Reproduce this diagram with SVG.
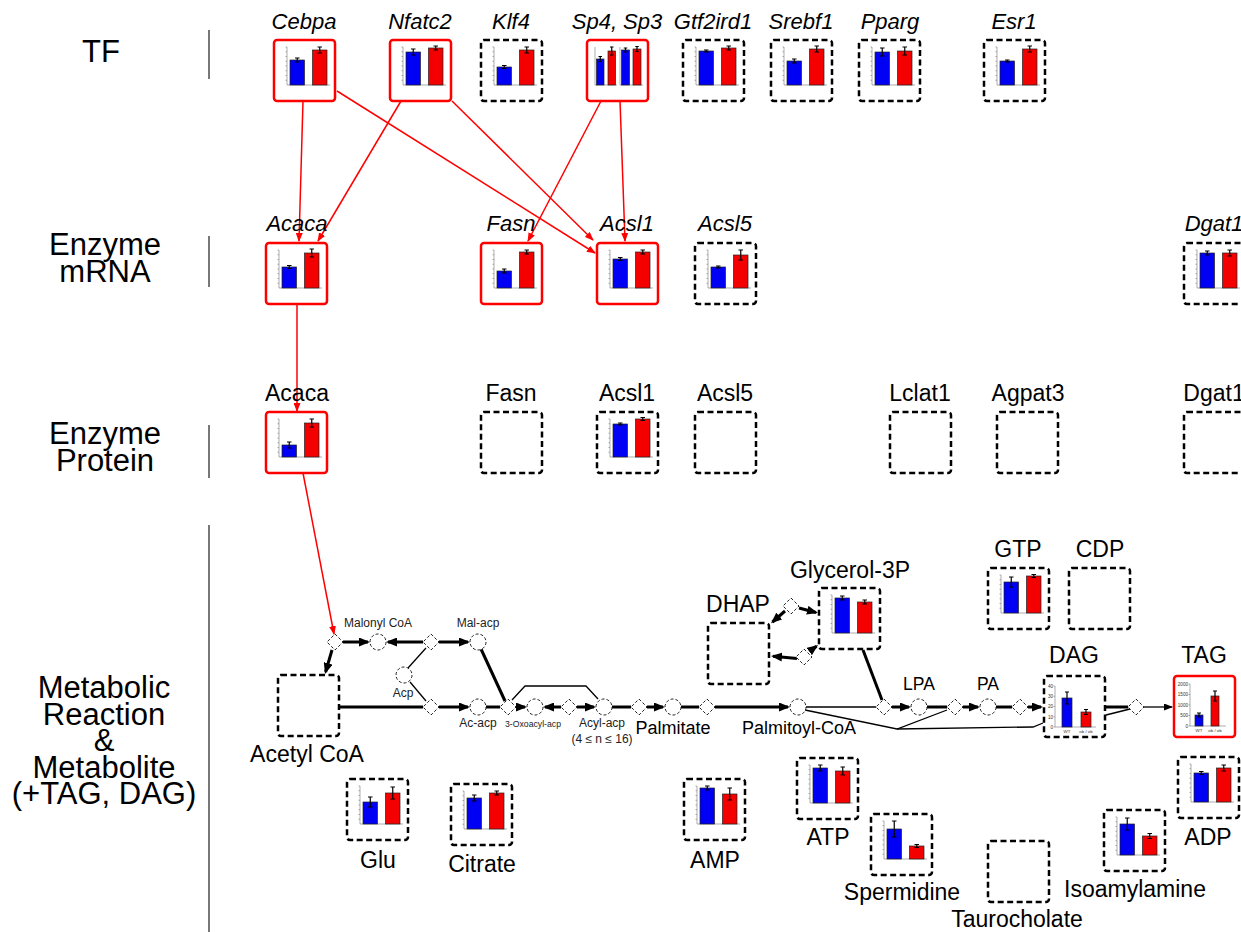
<svg xmlns="http://www.w3.org/2000/svg" xmlns:xlink="http://www.w3.org/1999/xlink" width="1241" height="932" viewBox="0 0 1241 932">
<style>
text{font-family:"Liberation Sans",Arial,sans-serif;fill:#000}
.cat{font-size:31px;text-anchor:middle}
.gi{font-size:22px;font-style:italic;text-anchor:middle}
.gl{font-size:23px;text-anchor:middle}
.md{font-size:18px;text-anchor:middle}
.lp{font-size:17.5px;text-anchor:middle}
.sm{font-size:12px;text-anchor:middle;fill:#222}
.xs{font-size:8.7px;text-anchor:middle;fill:#222}
.tk{font-size:4.6px;fill:#333}
.tc{font-size:4.4px;fill:#333;text-anchor:middle}
.bx{fill:#fff;stroke:#000;stroke-width:2.5;stroke-dasharray:6 3.5}
.bxr{fill:#fff;stroke:#f00;stroke-width:2.5}
.dia,.cir{fill:#fff;stroke:#222;stroke-width:1;stroke-dasharray:3 2}
.th{fill:none;stroke:#000;stroke-width:3}
.tha{fill:none;stroke:#000;stroke-width:3;marker-end:url(#ak)}
.tn{fill:none;stroke:#000;stroke-width:1.3}
.tna{fill:none;stroke:#000;stroke-width:1.3;marker-end:url(#as)}
.rd{fill:none;stroke:#f00;stroke-width:1.5;marker-end:url(#ar)}
.bb{fill:#0000f5;stroke:#222;stroke-width:0.7}
.br{fill:#f50000;stroke:#222;stroke-width:0.7}
.eb{fill:none;stroke:#000;stroke-width:1.2}
.axl{fill:none;stroke:#777;stroke-width:0.6}
.sep{fill:none;stroke:#777;stroke-width:2}
</style>
<defs>
<marker id="ak" viewBox="0 0 11 9" markerWidth="11" markerHeight="9" refX="9" refY="4.5" orient="auto" markerUnits="userSpaceOnUse"><path d="M0,0L11,4.5L0,9z" fill="#000"/></marker>
<marker id="as" viewBox="0 0 9 7" markerWidth="9" markerHeight="7" refX="8" refY="3.5" orient="auto" markerUnits="userSpaceOnUse"><path d="M0,0L9,3.5L0,7z" fill="#000"/></marker>
<marker id="ar" viewBox="0 0 9 7" markerWidth="9" markerHeight="7" refX="8" refY="3.5" orient="auto" markerUnits="userSpaceOnUse"><path d="M0,0L9,3.5L0,7z" fill="#f00"/></marker>
<path id="dm" d="M0,-8L8,0L0,8L-8,0z"/>
<g id="ax"><path class="axl" d="M13,7V45H56"/><path class="axl" d="M11.5,7h1.5M11.5,11.75h1.5M11.5,16.5h1.5M11.5,21.25h1.5M11.5,26h1.5M11.5,30.75h1.5M11.5,35.5h1.5M11.5,40.25h1.5"/></g>
</defs>

<!-- category column -->
<g id="categories">
<text class="cat" x="101" y="62">TF</text>
<text class="cat" x="105" y="255">Enzyme</text>
<text class="cat" x="105" y="281.5">mRNA</text>
<text class="cat" x="105" y="444">Enzyme</text>
<text class="cat" x="105" y="470.5">Protein</text>
<text class="cat" x="104" y="698">Metabolic</text>
<text class="cat" x="104" y="724.5">Reaction</text>
<text class="cat" x="104" y="751">&amp;</text>
<text class="cat" x="104" y="777.5">Metabolite</text>
<text class="cat" x="104" y="804">(+TAG, DAG)</text>
<path class="sep" d="M209,30V79M209,236V287M209,425V478M209,525V932"/>
</g>

<!-- connectors -->
<g id="connectors">
<!-- regulation -->
<path class="rd" d="M303,101L299,241"/>
<path class="rd" d="M337,91L595,253"/>
<path class="rd" d="M401,101L318,241"/>
<path class="rd" d="M452,101L593,240"/>
<path class="rd" d="M601,101L528,241"/>
<path class="rd" d="M620,101L625,241"/>
<path class="rd" d="M297,304L297,411"/>
<path class="rd" d="M303,473L334,634"/>
<!-- malonyl / acp branch -->
<path class="tha" d="M343,642H368"/>
<path class="tha" d="M332,650L325.6,672"/>
<path class="tha" d="M423,642H388"/>
<path class="tha" d="M439,642H468"/>
<path class="tn" d="M408,668L426,648"/>
<path class="tn" d="M410,682L426,701"/>
<path class="th" d="M339,707H423"/>
<path class="tha" d="M439,707H468"/>
<path class="th" d="M486,707H500"/>
<path class="th" d="M481,649L505,701"/>
<!-- elongation -->
<path class="tha" d="M516,707H525"/>
<path class="tha" d="M561,707H545"/>
<path class="tha" d="M577,707H594"/>
<path class="tn" d="M512,700L525,686H586L598,699"/>
<path class="th" d="M612,707H631"/>
<path class="tha" d="M647,707H663"/>
<path class="th" d="M681,707H699"/>
<path class="tha" d="M715,707H788"/>
<!-- glycerolipid branch -->
<path class="tn" d="M806,707H876"/>
<path class="tn" d="M805,710L897,729L947,710"/>
<path class="tn" d="M897,729L1033,727L1043,723"/>
<path class="th" d="M863,650L882,700"/>
<path class="tha" d="M785,611L772.5,622"/>
<path class="tha" d="M799,608L816,612.5"/>
<path class="tha" d="M797,658.5L773,656.2"/>
<path class="tha" d="M810,651L816.5,646.2"/>
<path class="tha" d="M892,707H909"/>
<path class="th" d="M927,707H947"/>
<path class="tha" d="M963,707H978"/>
<path class="th" d="M996,707H1012"/>
<path class="tha" d="M1028,707H1041"/>
<path class="th" d="M1106,707H1128"/>
<path class="tn" d="M1106,715L1130,709"/>
<path class="tna" d="M1144,707H1172"/>
</g>

<!-- transcription factors -->
<g id="tf-cebpa"><text class="gi" x="304" y="29">Cebpa</text><rect class="bxr" x="274" y="40" width="61" height="61" rx="3"/>
<g transform="translate(274,40)"><use xlink:href="#ax"/><rect class="bb" x="16" y="20" width="14.5" height="25"/><rect class="br" x="38.5" y="10" width="14.5" height="35"/><path class="eb" d="M23.25,18V22M21,18h4.5M21,22h4.5M45.75,7V13M43.5,7h4.5M43.5,13h4.5"/></g></g>
<g id="tf-nfatc2"><text class="gi" x="420" y="29">Nfatc2</text><rect class="bxr" x="390" y="40" width="61" height="61" rx="3"/>
<g transform="translate(390,40)"><use xlink:href="#ax"/><rect class="bb" x="16" y="12" width="14.5" height="33"/><rect class="br" x="38.5" y="8" width="14.5" height="37"/><path class="eb" d="M23.25,9V15M21,9h4.5M21,15h4.5M45.75,6V10M43.5,6h4.5M43.5,10h4.5"/></g></g>
<g id="tf-klf4"><text class="gi" x="511" y="29">Klf4</text><rect class="bx" x="481" y="40" width="61" height="61" rx="3"/>
<g transform="translate(481,40)"><use xlink:href="#ax"/><rect class="bb" x="16" y="27" width="14.5" height="18"/><rect class="br" x="38.5" y="10" width="14.5" height="35"/><path class="eb" d="M23.25,25.5V28.5M21,25.5h4.5M21,28.5h4.5M45.75,7V13M43.5,7h4.5M43.5,13h4.5"/></g></g>
<g id="tf-sp4-sp3"><text class="gi" x="617" y="29">Sp4, Sp3</text><rect class="bxr" x="587" y="40" width="61" height="61" rx="3"/>
<g transform="translate(587,40)"><path class="axl" d="M8,7V45H30M33,7V45H56"/><rect class="bb" x="9.5" y="19" width="7.5" height="26"/><rect class="br" x="21" y="11" width="7.5" height="34"/><rect class="bb" x="34.5" y="10" width="8" height="35"/><rect class="br" x="46" y="9" width="8" height="36"/><path class="eb" d="M13.25,16.5V21.5M11.5,16.5h3.5M11.5,21.5h3.5M24.75,7V15M23,7h3.5M23,15h3.5M38.5,8V12M36.75,8h3.5M36.75,12h3.5M50,6.5V11.5M48.25,6.5h3.5M48.25,11.5h3.5"/></g></g>
<g id="tf-gtf2ird1"><text class="gi" x="713" y="29">Gtf2ird1</text><rect class="bx" x="683" y="40" width="61" height="61" rx="3"/>
<g transform="translate(683,40)"><use xlink:href="#ax"/><rect class="bb" x="16" y="11" width="14.5" height="34"/><rect class="br" x="38.5" y="8" width="14.5" height="37"/><path class="eb" d="M23.25,10V12M21,10h4.5M21,12h4.5M45.75,6V10M43.5,6h4.5M43.5,10h4.5"/></g></g>
<g id="tf-srebf1"><text class="gi" x="801" y="29">Srebf1</text><rect class="bx" x="771" y="40" width="61" height="61" rx="3"/>
<g transform="translate(771,40)"><use xlink:href="#ax"/><rect class="bb" x="16" y="21" width="14.5" height="24"/><rect class="br" x="38.5" y="9" width="14.5" height="36"/><path class="eb" d="M23.25,19V23M21,19h4.5M21,23h4.5M45.75,6V12M43.5,6h4.5M43.5,12h4.5"/></g></g>
<g id="tf-pparg"><text class="gi" x="890" y="29">Pparg</text><rect class="bx" x="859" y="40" width="61" height="61" rx="3"/>
<g transform="translate(859,40)"><use xlink:href="#ax"/><rect class="bb" x="16" y="12" width="14.5" height="33"/><rect class="br" x="38.5" y="11" width="14.5" height="34"/><path class="eb" d="M23.25,8V16M21,8h4.5M21,16h4.5M45.75,7V15M43.5,7h4.5M43.5,15h4.5"/></g></g>
<g id="tf-esr1"><text class="gi" x="1014" y="29">Esr1</text><rect class="bx" x="984" y="40" width="61" height="61" rx="3"/>
<g transform="translate(984,40)"><use xlink:href="#ax"/><rect class="bb" x="16" y="21" width="14.5" height="24"/><rect class="br" x="38.5" y="9" width="14.5" height="36"/><path class="eb" d="M23.25,20V22M21,20h4.5M21,22h4.5M45.75,6V12M43.5,6h4.5M43.5,12h4.5"/></g></g>

<!-- enzyme mRNA -->
<g id="mrna-acaca"><text class="gi" x="297" y="231">Acaca</text><rect class="bxr" x="266" y="243" width="61" height="61" rx="3"/>
<g transform="translate(266,243)"><use xlink:href="#ax"/><rect class="bb" x="16" y="24" width="14.5" height="21"/><rect class="br" x="38.5" y="10" width="14.5" height="35"/><path class="eb" d="M23.25,22.5V25.5M21,22.5h4.5M21,25.5h4.5M45.75,6V14M43.5,6h4.5M43.5,14h4.5"/></g></g>
<g id="mrna-fasn"><text class="gi" x="511" y="231">Fasn</text><rect class="bxr" x="481" y="243" width="61" height="61" rx="3"/>
<g transform="translate(481,243)"><use xlink:href="#ax"/><rect class="bb" x="16" y="28" width="14.5" height="17"/><rect class="br" x="38.5" y="9" width="14.5" height="36"/><path class="eb" d="M23.25,26V30M21,26h4.5M21,30h4.5M45.75,7V11M43.5,7h4.5M43.5,11h4.5"/></g></g>
<g id="mrna-acsl1"><text class="gi" x="627" y="231">Acsl1</text><rect class="bxr" x="597" y="243" width="61" height="61" rx="3"/>
<g transform="translate(597,243)"><use xlink:href="#ax"/><rect class="bb" x="16" y="16" width="14.5" height="29"/><rect class="br" x="38.5" y="9" width="14.5" height="36"/><path class="eb" d="M23.25,14.5V17.5M21,14.5h4.5M21,17.5h4.5M45.75,7V11M43.5,7h4.5M43.5,11h4.5"/></g></g>
<g id="mrna-acsl5"><text class="gi" x="725" y="231">Acsl5</text><rect class="bx" x="695" y="243" width="61" height="61" rx="3"/>
<g transform="translate(695,243)"><use xlink:href="#ax"/><rect class="bb" x="16" y="24" width="14.5" height="21"/><rect class="br" x="38.5" y="12" width="14.5" height="33"/><path class="eb" d="M23.25,23V25M21,23h4.5M21,25h4.5M45.75,7V17M43.5,7h4.5M43.5,17h4.5"/></g></g>
<g id="mrna-dgat1"><text class="gi" x="1214" y="231">Dgat1</text><rect class="bx" x="1184" y="243" width="61" height="61" rx="3"/>
<g transform="translate(1184,243)"><use xlink:href="#ax"/><rect class="bb" x="16" y="10" width="14.5" height="35"/><rect class="br" x="38.5" y="10" width="14.5" height="35"/><path class="eb" d="M23.25,8V12M21,8h4.5M21,12h4.5M45.75,7V13M43.5,7h4.5M43.5,13h4.5"/></g></g>

<!-- enzyme protein -->
<g id="prot-acaca"><text class="gl" x="297" y="401">Acaca</text><rect class="bxr" x="266" y="412" width="61" height="61" rx="3"/>
<g transform="translate(266,412)"><use xlink:href="#ax"/><rect class="bb" x="16" y="33" width="14.5" height="12"/><rect class="br" x="38.5" y="11" width="14.5" height="34"/><path class="eb" d="M23.25,30V36M21,30h4.5M21,36h4.5M45.75,7V15M43.5,7h4.5M43.5,15h4.5"/></g></g>
<g id="prot-fasn"><text class="gl" x="511" y="401">Fasn</text><rect class="bx" x="481" y="412" width="61" height="61" rx="3"/></g>
<g id="prot-acsl1"><text class="gl" x="627" y="401">Acsl1</text><rect class="bx" x="597" y="412" width="61" height="61" rx="3"/>
<g transform="translate(597,412)"><use xlink:href="#ax"/><rect class="bb" x="16" y="12" width="14.5" height="33"/><rect class="br" x="38.5" y="7" width="14.5" height="38"/><path class="eb" d="M23.25,11V13M21,11h4.5M21,13h4.5M45.75,5.5V8.5M43.5,5.5h4.5M43.5,8.5h4.5"/></g></g>
<g id="prot-acsl5"><text class="gl" x="725" y="401">Acsl5</text><rect class="bx" x="695" y="412" width="61" height="61" rx="3"/></g>
<g id="prot-lclat1"><text class="gl" x="920" y="401">Lclat1</text><rect class="bx" x="890" y="412" width="61" height="61" rx="3"/></g>
<g id="prot-agpat3"><text class="gl" x="1028" y="401">Agpat3</text><rect class="bx" x="997" y="412" width="61" height="61" rx="3"/></g>
<g id="prot-dgat1"><text class="gl" x="1214" y="401">Dgat1</text><rect class="bx" x="1184" y="412" width="61" height="61" rx="3"/></g>

<!-- reaction points and intermediates -->
<g id="r1"><use xlink:href="#dm" class="dia" x="335" y="642"/></g>
<g id="malonyl-coa"><circle class="cir" cx="378" cy="642" r="8"/><text class="sm" x="378" y="627">Malonyl CoA</text></g>
<g id="r2"><use xlink:href="#dm" class="dia" x="431" y="642"/></g>
<g id="mal-acp"><circle class="cir" cx="478" cy="642" r="8"/><text class="sm" x="478" y="627">Mal-acp</text></g>
<g id="acp"><circle class="cir" cx="404" cy="675" r="8"/><text class="sm" x="403" y="697">Acp</text></g>
<g id="r3"><use xlink:href="#dm" class="dia" x="431" y="707"/></g>
<g id="ac-acp"><circle class="cir" cx="478" cy="707" r="8"/><text class="sm" x="478" y="727">Ac-acp</text></g>
<g id="r4"><use xlink:href="#dm" class="dia" x="508" y="707"/></g>
<g id="oxoacyl-acp"><circle class="cir" cx="535" cy="707" r="8"/><text class="xs" x="533" y="727">3-Oxoacyl-acp</text></g>
<g id="r5"><use xlink:href="#dm" class="dia" x="569" y="707"/></g>
<g id="acyl-acp"><circle class="cir" cx="604" cy="707" r="8"/><text class="sm" x="602" y="727">Acyl-acp</text><text class="sm" x="602" y="743">(4 ≤ n ≤ 16)</text></g>
<g id="r6"><use xlink:href="#dm" class="dia" x="639" y="707"/></g>
<g id="palmitate"><circle class="cir" cx="673" cy="707" r="8"/><text class="md" x="673" y="734">Palmitate</text></g>
<g id="r7"><use xlink:href="#dm" class="dia" x="707" y="707"/></g>
<g id="palmitoyl-coa"><circle class="cir" cx="798" cy="707" r="8"/><text class="md" x="799" y="734">Palmitoyl-CoA</text></g>
<g id="r8"><use xlink:href="#dm" class="dia" x="884" y="707"/></g>
<g id="lpa"><circle class="cir" cx="919" cy="707" r="8"/><text class="lp" x="919" y="690">LPA</text></g>
<g id="r9"><use xlink:href="#dm" class="dia" x="955" y="707"/></g>
<g id="pa"><circle class="cir" cx="988" cy="707" r="8"/><text class="lp" x="988" y="690">PA</text></g>
<g id="r10"><use xlink:href="#dm" class="dia" x="1020" y="707"/></g>
<g id="r11"><use xlink:href="#dm" class="dia" x="1136" y="707"/></g>
<g id="r12"><use xlink:href="#dm" class="dia" x="791" y="606"/></g>
<g id="r13"><use xlink:href="#dm" class="dia" x="804" y="657"/></g>

<!-- metabolites -->
<g id="acetyl-coa"><rect class="bx" x="278" y="675" width="61" height="61" rx="3"/><text class="gl" x="307" y="762">Acetyl CoA</text></g>
<g id="dhap"><text class="gl" x="738" y="612">DHAP</text><rect class="bx" x="708" y="623" width="61" height="61" rx="3"/></g>
<g id="glycerol-3p"><text class="gl" x="850" y="578">Glycerol-3P</text><rect class="bx" x="819" y="588" width="61" height="61" rx="3"/>
<g transform="translate(819,588)"><use xlink:href="#ax"/><rect class="bb" x="16" y="10" width="14.5" height="35"/><rect class="br" x="38.5" y="14" width="14.5" height="31"/><path class="eb" d="M23.25,8V12M21,8h4.5M21,12h4.5M45.75,12V16M43.5,12h4.5M43.5,16h4.5"/></g></g>
<g id="gtp"><text class="gl" x="1018" y="557">GTP</text><rect class="bx" x="988" y="568" width="61" height="61" rx="3"/>
<g transform="translate(988,568)"><use xlink:href="#ax"/><rect class="bb" x="16" y="14" width="14.5" height="31"/><rect class="br" x="38.5" y="8" width="14.5" height="37"/><path class="eb" d="M23.25,9V19M21,9h4.5M21,19h4.5M45.75,6.5V9.5M43.5,6.5h4.5M43.5,9.5h4.5"/></g></g>
<g id="cdp"><text class="gl" x="1100" y="557">CDP</text><rect class="bx" x="1069" y="568" width="61" height="61" rx="3"/></g>
<g id="dag"><text class="gl" x="1074" y="663">DAG</text><rect class="bx" x="1044" y="676" width="61" height="61" rx="3"/>
<g transform="translate(1044,676)"><path class="axl" d="M11,10V51H52M9.5,10h1.5M9.5,20.25h1.5M9.5,30.5h1.5M9.5,40.75h1.5M9.5,51h1.5"/>
<text class="tk" x="9" y="11.7" text-anchor="end">40</text><text class="tk" x="9" y="22" text-anchor="end">30</text><text class="tk" x="9" y="32.2" text-anchor="end">20</text><text class="tk" x="9" y="42.5" text-anchor="end">10</text><text class="tk" x="9" y="52.7" text-anchor="end">0</text>
<rect class="bb" x="18" y="22" width="10" height="29"/><rect class="br" x="37" y="36" width="10" height="15"/><path class="eb" d="M23,16V28M21,16h4M21,28h4M42,33.5V38.5M40,33.5h4M40,38.5h4"/>
<text class="tc" x="23" y="57">WT</text><text class="tc" x="42" y="57">ob / ob</text></g></g>
<g id="tag"><text class="gl" x="1204" y="663">TAG</text><rect class="bxr" x="1174" y="676" width="61" height="61" rx="3"/>
<g transform="translate(1174,676)"><path class="axl" d="M16,8V50H52M14.5,8h1.5M14.5,18.5h1.5M14.5,29h1.5M14.5,39.5h1.5M14.5,50h1.5"/>
<text class="tk" x="14" y="9.7" text-anchor="end">2000</text><text class="tk" x="14" y="20.2" text-anchor="end">1500</text><text class="tk" x="14" y="30.7" text-anchor="end">1000</text><text class="tk" x="14" y="41.2" text-anchor="end">500</text><text class="tk" x="14" y="51.7" text-anchor="end">0</text>
<rect class="bb" x="21" y="39" width="8" height="11"/><rect class="br" x="37" y="20" width="8" height="30"/><path class="eb" d="M25,37V41M23,37h4M23,41h4M41,15V25M39,15h4M39,25h4"/>
<text class="tc" x="25" y="56">WT</text><text class="tc" x="41" y="56">ob / ob</text></g></g>
<g id="glu"><rect class="bx" x="347" y="779" width="61" height="61" rx="3"/><text class="gl" x="378" y="868">Glu</text>
<g transform="translate(347,779)"><use xlink:href="#ax"/><rect class="bb" x="16" y="23" width="14.5" height="22"/><rect class="br" x="38.5" y="14" width="14.5" height="31"/><path class="eb" d="M23.25,18V28M21,18h4.5M21,28h4.5M45.75,8V20M43.5,8h4.5M43.5,20h4.5"/></g></g>
<g id="citrate"><rect class="bx" x="451" y="784" width="61" height="61" rx="3"/><text class="gl" x="482" y="872">Citrate</text>
<g transform="translate(451,784)"><use xlink:href="#ax"/><rect class="bb" x="16" y="14" width="14.5" height="31"/><rect class="br" x="38.5" y="9" width="14.5" height="36"/><path class="eb" d="M23.25,11V17M21,11h4.5M21,17h4.5M45.75,7V11M43.5,7h4.5M43.5,11h4.5"/></g></g>
<g id="amp"><rect class="bx" x="684" y="779" width="61" height="61" rx="3"/><text class="gl" x="715" y="868">AMP</text>
<g transform="translate(684,779)"><use xlink:href="#ax"/><rect class="bb" x="16" y="9" width="14.5" height="36"/><rect class="br" x="38.5" y="15" width="14.5" height="30"/><path class="eb" d="M23.25,7V11M21,7h4.5M21,11h4.5M45.75,9V21M43.5,9h4.5M43.5,21h4.5"/></g></g>
<g id="atp"><rect class="bx" x="797" y="758" width="61" height="61" rx="3"/><text class="gl" x="828" y="845">ATP</text>
<g transform="translate(797,758)"><use xlink:href="#ax"/><rect class="bb" x="16" y="10" width="14.5" height="35"/><rect class="br" x="38.5" y="13" width="14.5" height="32"/><path class="eb" d="M23.25,7V13M21,7h4.5M21,13h4.5M45.75,9V17M43.5,9h4.5M43.5,17h4.5"/></g></g>
<g id="spermidine"><rect class="bx" x="871" y="814" width="61" height="61" rx="3"/><text class="gl" x="902" y="900">Spermidine</text>
<g transform="translate(871,814)"><use xlink:href="#ax"/><rect class="bb" x="16" y="15" width="14.5" height="30"/><rect class="br" x="38.5" y="32" width="14.5" height="13"/><path class="eb" d="M23.25,7V23M21,7h4.5M21,23h4.5M45.75,30.5V33.5M43.5,30.5h4.5M43.5,33.5h4.5"/></g></g>
<g id="taurocholate"><rect class="bx" x="988" y="841" width="61" height="61" rx="3"/><text class="gl" x="1017" y="927">Taurocholate</text></g>
<g id="isoamylamine"><rect class="bx" x="1104" y="810" width="61" height="61" rx="3"/><text class="gl" x="1135" y="897">Isoamylamine</text>
<g transform="translate(1104,810)"><use xlink:href="#ax"/><rect class="bb" x="16" y="14" width="14.5" height="31"/><rect class="br" x="38.5" y="26" width="14.5" height="19"/><path class="eb" d="M23.25,8V20M21,8h4.5M21,20h4.5M45.75,23.5V28.5M43.5,23.5h4.5M43.5,28.5h4.5"/></g></g>
<g id="adp"><rect class="bx" x="1178" y="757" width="61" height="61" rx="3"/><text class="gl" x="1208" y="845">ADP</text>
<g transform="translate(1178,757)"><use xlink:href="#ax"/><rect class="bb" x="16" y="16" width="14.5" height="29"/><rect class="br" x="38.5" y="11" width="14.5" height="34"/><path class="eb" d="M23.25,14.5V17.5M21,14.5h4.5M21,17.5h4.5M45.75,8V14M43.5,8h4.5M43.5,14h4.5"/></g></g>
</svg>
